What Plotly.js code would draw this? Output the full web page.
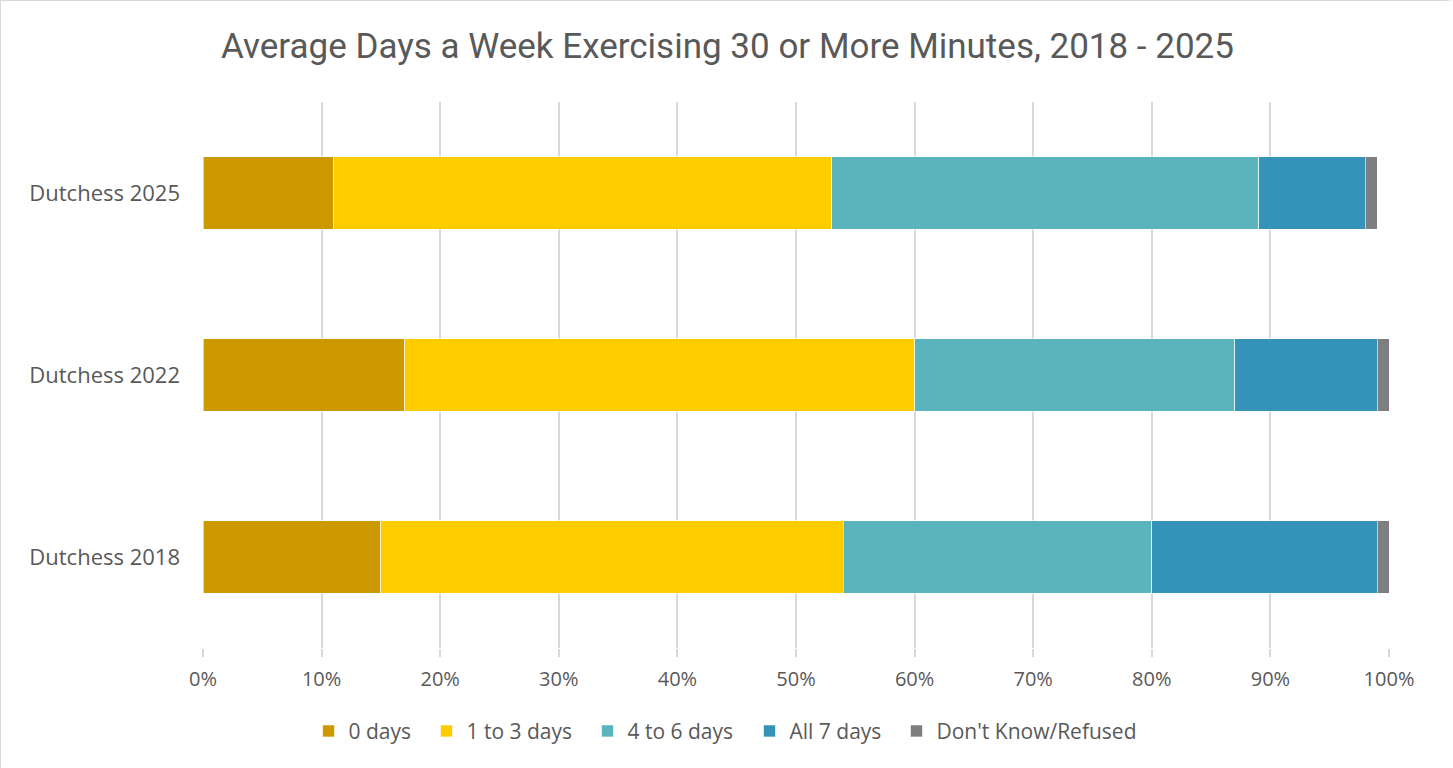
<!DOCTYPE html>
<html>
<head>
<meta charset="utf-8">
<script src="https://cdn.plot.ly/plotly-3.0.1.min.js"></script>
<style>
html,body{margin:0;padding:0;background:#fff;}
#chart{width:1453px;height:768px;box-sizing:border-box;border:1px solid #d9d9d9;border-right:6px solid #fff;}
</style>
</head>
<body>
<div id="chart"></div>
<script>
const categories = ['Dutchess 2018', 'Dutchess 2022', 'Dutchess 2025'];
const seriesNames = ['0 days', '1 to 3 days', '4 to 6 days', 'All 7 days', "Don't Know/Refused"];
const zeroDays = [0.15, 0.17, 0.11];
const oneToThree = [0.39, 0.43, 0.42];
const fourToSix = [0.26, 0.27, 0.36];
const allSeven = [0.19, 0.12, 0.09];
const dontKnow = [0.01, 0.01, 0.01];
const colors = ['#CC9900', '#FFCC00', '#59B4BE', '#3592B8', '#7F7F7F'];
const legendWidths = [73, 116, 117, 102, 240];

const values = [zeroDays, oneToThree, fourToSix, allSeven, dontKnow];
const traces = values.map((v, i) => ({
  type: 'bar',
  orientation: 'h',
  name: seriesNames[i],
  y: categories,
  x: v,
  width: 0.4,
  legendwidth: legendWidths[i],
  marker: {color: colors[i], line: {color: 'rgba(255,255,255,0.6)', width: 1}},
  hoverinfo: 'name+x'
}));

const layout = {
  width: 1453, height: 768,
  barmode: 'stack',
  paper_bgcolor: '#fff', plot_bgcolor: '#fff',
  font: {family: '"Open Sans", Roboto, sans-serif', color: '#595959', size: 21},
  title: {text: 'Average Days a Week Exercising 30 or More Minutes, 2018 - 2025',
          font: {family: 'Roboto, sans-serif', size: 35, color: '#595959'},
          x: 0.5, xanchor: 'center', y: 0.942, yanchor: 'middle'},
  margin: {l: 202, r: 65, t: 101, b: 121},
  xaxis: {range: [0, 1], dtick: 0.1, tick0: 0, tickformat: '.0%', tickangle: 0,
          showgrid: true, gridcolor: '#d9d9d9', gridwidth: 1.5, zeroline: false,
          ticks: 'outside', ticklen: 8, tickcolor: '#d9d9d9', tickwidth: 1.5,
          ticklabelstandoff: 5, tickfont: {size: 20, color: '#595959'}, fixedrange: true,
          automargin: false},
  yaxis: {categoryorder: 'array', categoryarray: categories, showgrid: false, zeroline: false,
          ticks: '', ticklabelstandoff: 22, tickfont: {size: 22, color: '#595959'},
          range: [-0.5, 2.5], fixedrange: true, automargin: false},
  legend: {orientation: 'h', x: 0.457, xanchor: 'center', y: -0.115, yanchor: 'top',
           font: {size: 21, color: '#595959'}, traceorder: 'normal', itemwidth: 30},
  bargap: 0.6,
  showlegend: true
};

Plotly.newPlot('chart', traces, layout, {displayModeBar: false, staticPlot: false});
</script>
</body>
</html>
